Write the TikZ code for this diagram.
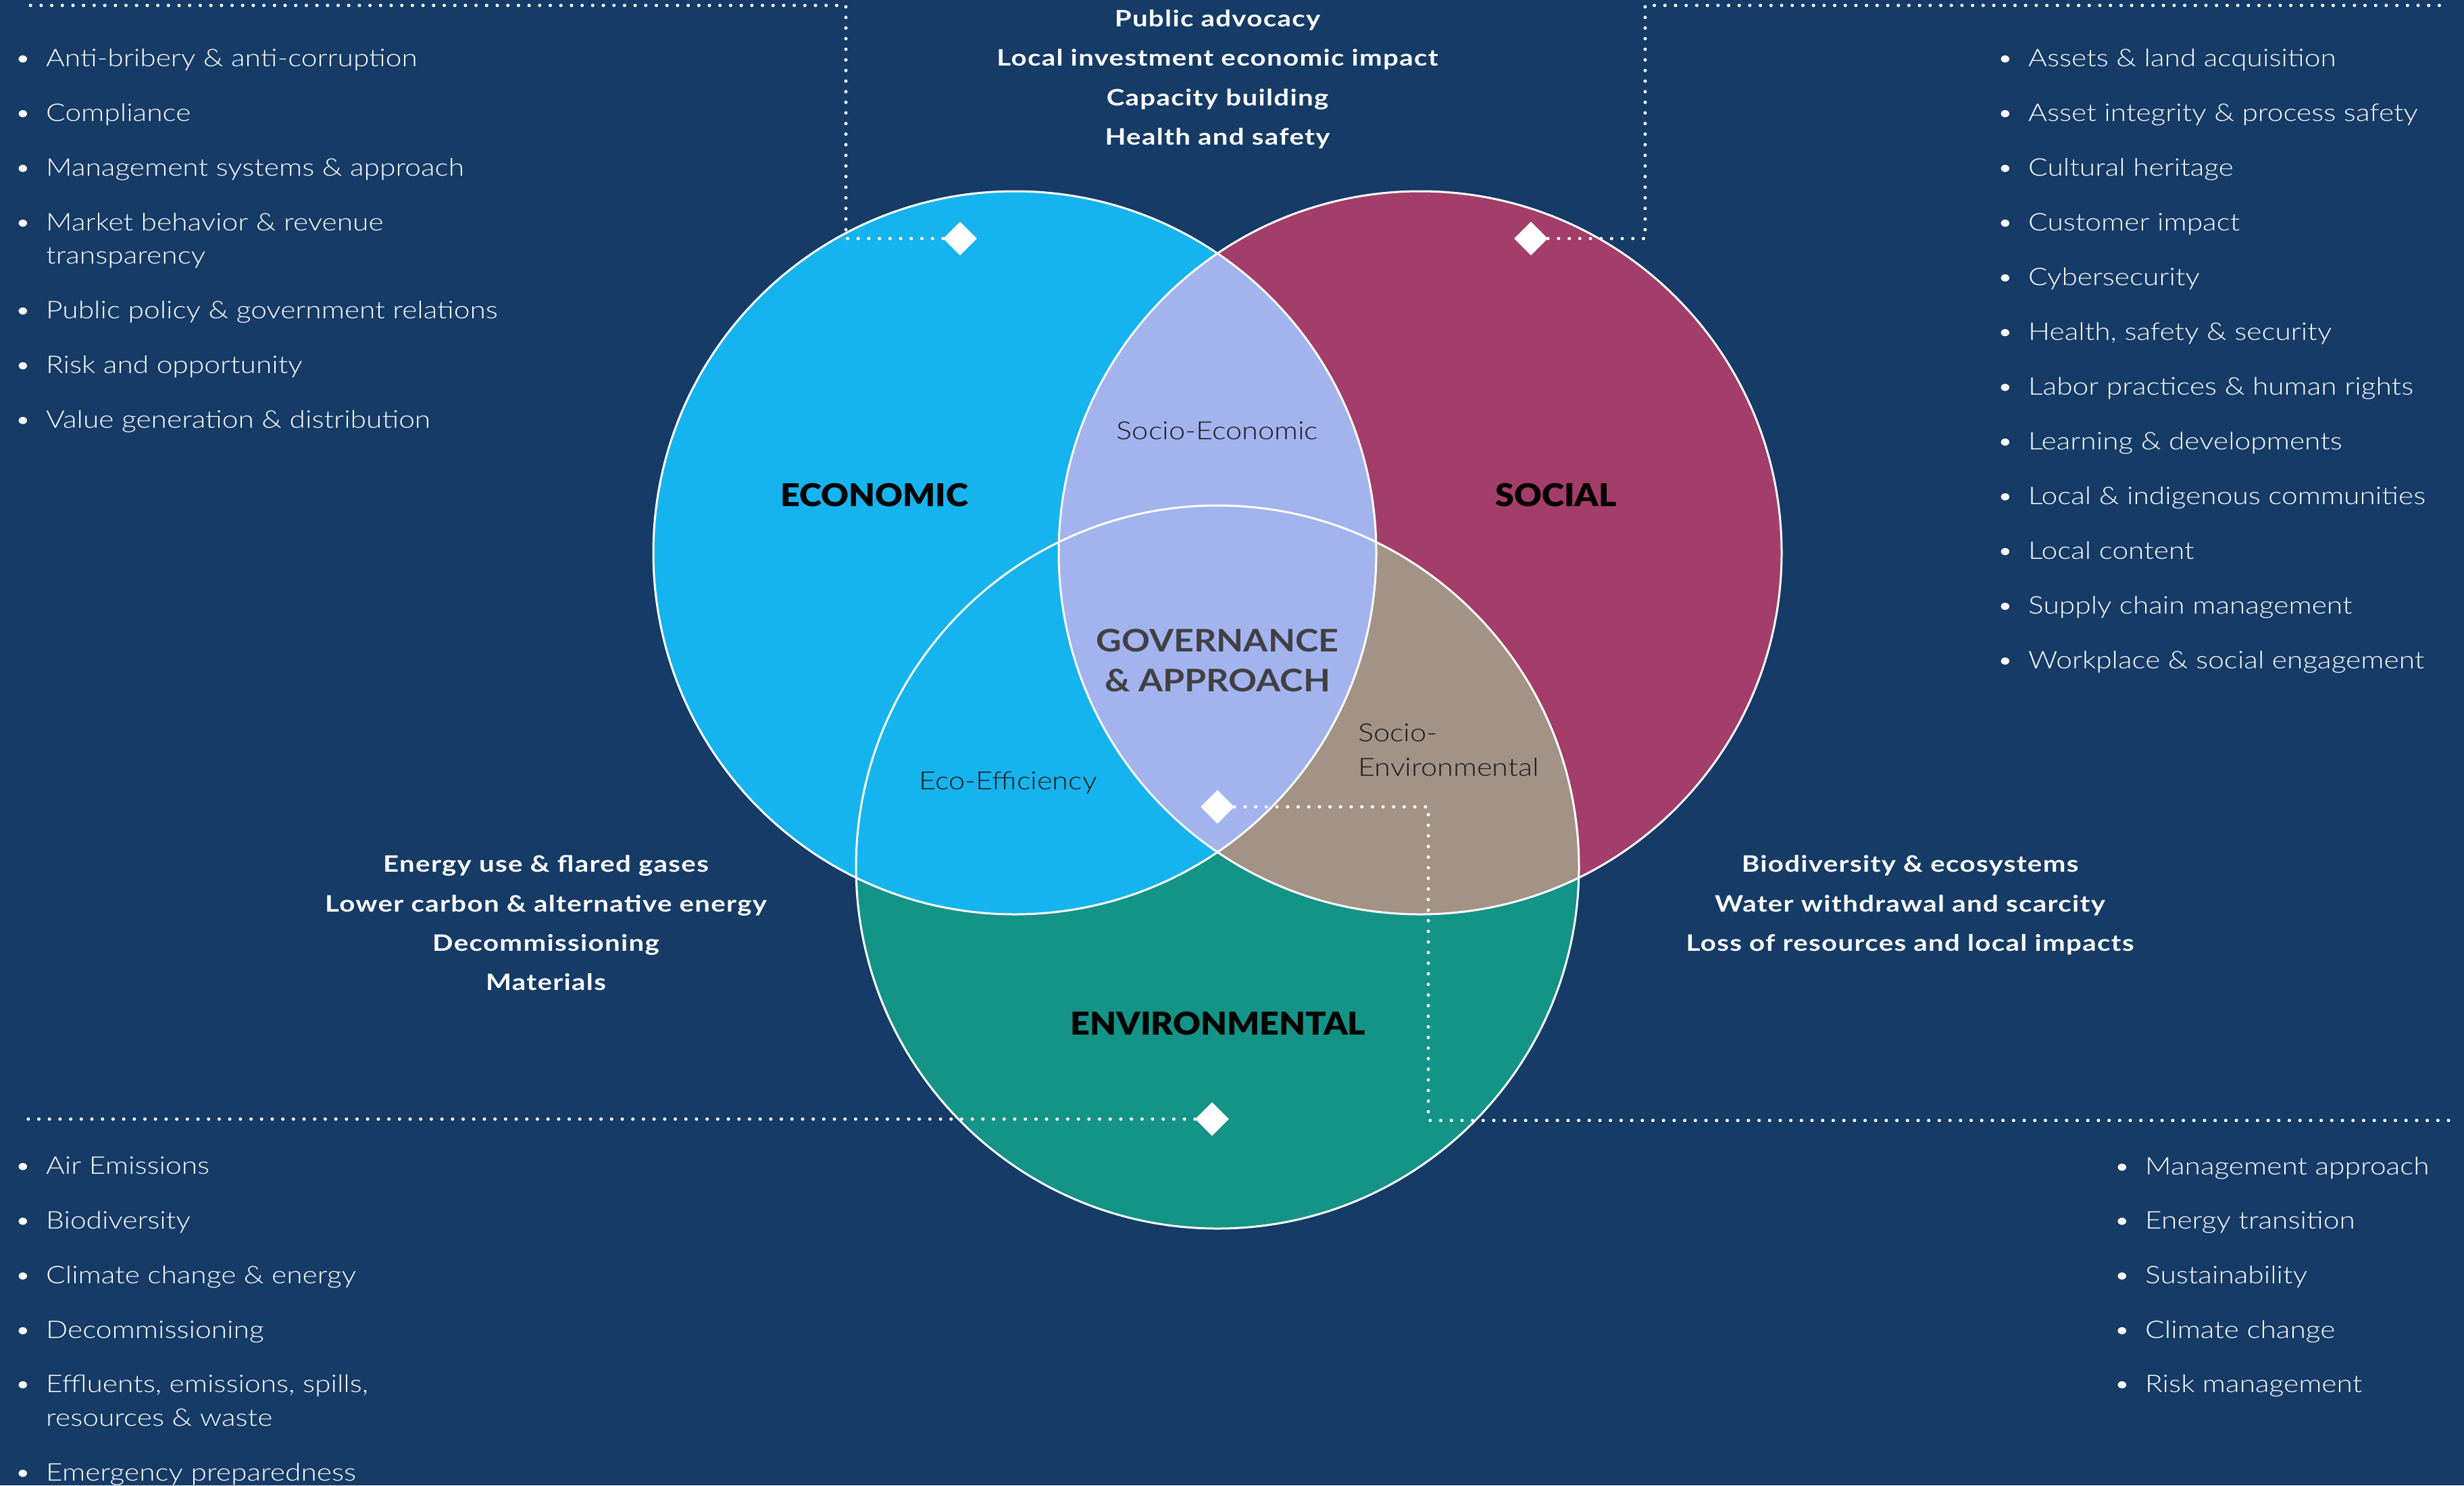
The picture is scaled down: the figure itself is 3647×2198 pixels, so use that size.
\documentclass[tikz,border=0pt]{standalone}
\usepackage{fontspec}
\setmainfont{Lato}
\newfontfamily\lightfont{Lato Light}[FakeStretch=1.18]
\newfontfamily\lightsub{Lato Light}[FakeStretch=1.17]
\newfontfamily\boldw{Lato}[FakeStretch=1.2,LetterSpace=4]
\newfontfamily\headf{Lato Black}[FakeStretch=1.08]
\newfontfamily\govf{Lato}[FakeStretch=1.13]
\usetikzlibrary{shapes.geometric}
\definecolor{bgc}{RGB}{21,59,102}
\definecolor{ecoc}{RGB}{22,180,238}
\definecolor{socc}{RGB}{163,61,105}
\definecolor{envc}{RGB}{20,147,135}
\definecolor{lavc}{RGB}{163,179,238}
\definecolor{taupec}{RGB}{163,147,135}
\definecolor{govc}{RGB}{64,64,68}
\newcommand\mybul{\llap{\textbullet\hspace{22pt}}}
\begin{document}
\begin{tikzpicture}[x=1pt,y=-1pt,
  li/.style={anchor=base west, text=white, inner sep=0pt, font=\lightfont\fontsize{36}{44}\selectfont},
  bl/.style={anchor=base, text=white, inner sep=0pt, font=\boldw\bfseries\fontsize{33.5}{40}\selectfont},
  head/.style={anchor=base, text=black, inner sep=0pt, font=\headf\fontsize{46.5}{54}\selectfont},
  sub/.style={anchor=base, text=black!90, inner sep=0pt, font=\lightsub\fontsize{37}{44}\selectfont},
  gov/.style={anchor=base, text=govc, inner sep=0pt, font=\govf\bfseries\fontsize{46}{54}\selectfont},
  dia/.style={diamond, fill=white, minimum width=50pt, minimum height=50pt, inner sep=0pt},
  dotline/.style={white, line width=5pt, line cap=round, dash pattern=on 0pt off 15.7pt},
  ring/.style={white, line width=3pt}]
\fill[bgc] (0,0) rectangle (3647,2198);
\useasboundingbox (0,0) rectangle (3647,2198);
% circle centres
\coordinate (E) at (1502,818);
\coordinate (S) at (2102,818);
\coordinate (V) at (1802,1283);
\def\R{535}
\fill[envc] (V) circle (\R);
\fill[ecoc] (E) circle (\R);
\fill[socc] (S) circle (\R);
\begin{scope}
  \clip (S) circle (\R);
  \fill[taupec] (V) circle (\R);
\end{scope}
\begin{scope}
  \clip (E) circle (\R);
  \fill[lavc] (S) circle (\R);
\end{scope}
\draw[ring] (E) circle (\R);
\draw[ring] (S) circle (\R);
\draw[ring] (V) circle (\R);

% diamonds
\node[dia] (dE) at (1421,353) {};
\node[dia] (dS) at (2266,353) {};
\node[dia] (dG) at (1802,1194) {};
\node[dia] (dV) at (1794,1656) {};
% connector corners
\coordinate (a1) at (1252,353);
\coordinate (a2) at (1252,8);
\coordinate (a3) at (31,8);
\coordinate (b1) at (2435,353);
\coordinate (b2) at (2435,8);
\coordinate (b3) at (3624,8);
\coordinate (c1) at (2114,1194);
\coordinate (c2) at (2114,1658);
\coordinate (c3) at (3624,1658);
\coordinate (d1) at (31,1656);
\draw[dotline] (dE.west) -- (a1) -- (a2) -- (a3);
\draw[dotline] (dS.east) -- (b1) -- (b2) -- (b3);
\draw[dotline] (dG.east) -- (c1) -- (c2) -- (c3);
\draw[dotline] (dV.west) -- (d1);

% circle labels
\node[head] (lEco) at (1294,749) {ECONOMIC};
\node[head] (lSoc) at (2303,749) {SOCIAL};
\node[head] (lEnv) at (1803,1531) {ENVIRONMENTAL};
\node[sub] (lSE) at (1802,650) {Socio-Economic};
\node[gov] (lG1) at (1802,964) {GOVERNANCE};
\node[gov] (lG2) at (1802,1023) {\& APPROACH};
\node[sub] (lEE) at (1492,1168) {Eco-Efficiency};
\node[sub, anchor=base west] (lSN1) at (2010,1097) {Socio-};
\node[sub, anchor=base west] (lSN2) at (2010,1148) {Environmental};

% top centre bold block
\node[bl] (t1) at (1802,39) {Public advocacy};
\node[bl] (t2) at (1802,97) {Local investment economic impact};
\node[bl] (t3) at (1802,156) {Capacity building};
\node[bl] (t4) at (1802,214) {Health and safety};
% lower left bold block
\node[bl] (l1) at (808,1290) {Energy use \& flared gases};
\node[bl] (l2) at (808,1349) {Lower carbon \& alternative energy};
\node[bl] (l3) at (808,1407) {Decommissioning};
\node[bl] (l4) at (808,1465) {Materials};
% lower right bold block
\node[bl] (r1) at (2827,1290) {Biodiversity \& ecosystems};
\node[bl] (r2) at (2827,1349) {Water withdrawal and scarcity};
\node[bl] (r3) at (2827,1407) {Loss of resources and local impacts};

% top-left list
\node[li] (tl1) at (68,98) {\mybul Anti-bribery \& anti-corruption};
\node[li] (tl2) at (68,179) {\mybul Compliance};
\node[li] (tl3) at (68,260) {\mybul Management systems \& approach};
\node[li] (tl4) at (68,341) {\mybul Market behavior \& revenue};
\node[li] (tl4b) at (68,390) {transparency};
\node[li] (tl5) at (68,471) {\mybul Public policy \& government relations};
\node[li] (tl6) at (68,552) {\mybul Risk and opportunity};
\node[li] (tl7) at (68,633) {\mybul Value generation \& distribution};

% top-right list
\node[li] (tr1) at (3002,98) {\mybul Assets \& land acquisition};
\node[li] (tr2) at (3002,179) {\mybul Asset integrity \& process safety};
\node[li] (tr3) at (3002,260) {\mybul Cultural heritage};
\node[li] (tr4) at (3002,341) {\mybul Customer impact};
\node[li] (tr5) at (3002,422) {\mybul Cybersecurity};
\node[li] (tr6) at (3002,503) {\mybul Health, safety \& security};
\node[li] (tr7) at (3002,584) {\mybul Labor practices \& human rights};
\node[li] (tr8) at (3002,665) {\mybul Learning \& developments};
\node[li] (tr9) at (3002,746) {\mybul Local \& indigenous communities};
\node[li] (tr10) at (3002,827) {\mybul Local content};
\node[li] (tr11) at (3002,908) {\mybul Supply chain management};
\node[li] (tr12) at (3002,989) {\mybul Workplace \& social engagement};

% bottom-left list
\node[li] (bl1) at (68,1737) {\mybul Air Emissions};
\node[li] (bl2) at (68,1818) {\mybul Biodiversity};
\node[li] (bl3) at (68,1899) {\mybul Climate change \& energy};
\node[li] (bl4) at (68,1980) {\mybul Decommissioning};
\node[li] (bl5) at (68,2060) {\mybul Effluents, emissions, spills,};
\node[li] (bl5b) at (68,2110) {resources \& waste};
\node[li] (bl6) at (68,2191) {\mybul Emergency preparedness};

% bottom-right list
\node[li] (br1) at (3175,1738) {\mybul Management approach};
\node[li] (br2) at (3175,1818) {\mybul Energy transition};
\node[li] (br3) at (3175,1899) {\mybul Sustainability};
\node[li] (br4) at (3175,1980) {\mybul Climate change};
\node[li] (br5) at (3175,2060) {\mybul Risk management};
\end{tikzpicture}
\end{document}
